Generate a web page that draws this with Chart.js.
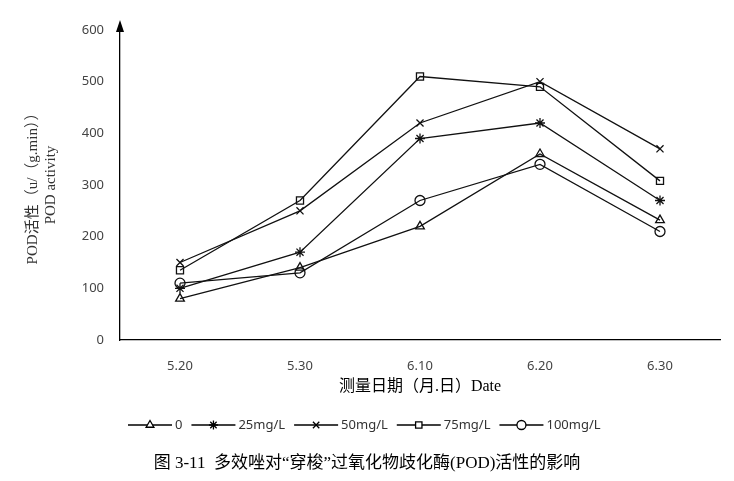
<!DOCTYPE html>
<html><head><meta charset="utf-8">
<script src="https://cdn.jsdelivr.net/npm/chart.js@4"></script>
<style>body{margin:0;background:#fff}#w{width:734px;height:481px}</style>
</head><body><div id="w"><canvas id="c"></canvas></div>
<script>
const dates = ['5.20', '5.30', '6.10', '6.20', '6.30'];
const names = ['0', '25mg/L', '50mg/L', '75mg/L', '100mg/L'];
const styles = ['triangle', 'star', 'crossRot', 'rect', 'circle'];
const s0 = [80, 140, 220, 360, 232];
const s25 = [100, 170, 390, 420, 270];
const s50 = [150, 250, 420, 500, 370];
const s75 = [135, 270, 510, 490, 308];
const s100 = [110, 130, 270, 340, 210];
const allSeries = [s0, s25, s50, s75, s100];

const font = '"Liberation Serif", "Noto Sans CJK SC", serif';

// legend, axis arrow and caption drawn by hand
const extras = {
    id: 'extras',
    afterDraw(ch) {
        const c = ch.ctx, a = ch.chartArea;
        c.save();
        c.fillStyle = '#000';
        c.beginPath();
        c.moveTo(a.left, a.top - 10); c.lineTo(a.left - 4, a.top + 2); c.lineTo(a.left + 4, a.top + 2);
        c.fill();
        let x = 128;
        const y = 425;
        c.font = '13px "Noto Sans", sans-serif';
        c.textBaseline = 'middle';
        ch.data.datasets.forEach((d, i) => {
            c.strokeStyle = '#000'; c.lineWidth = 1.3;
            c.beginPath(); c.moveTo(x, y); c.lineTo(x + 44, y); c.stroke();
            c.fillStyle = '#fff';
            Chart.helpers.drawPoint(c, {pointStyle: d.pointStyle, radius: 4.5, borderWidth: 1.3}, x + 22, y);
            c.fillStyle = '#333';
            c.fillText(d.label, x + 47, y);
            x += 52 + c.measureText(d.label).width + 4;
        });
        c.fillStyle = '#000';
        c.font = '17px ' + font;
        c.textAlign = 'center';
        c.fillText('图 3-11  多效唑对“穿梭”过氧化物歧化酶(POD)活性的影响', 367, 464);
        c.restore();
    }
};

new Chart(document.getElementById('c'), {
    type: 'line',
    data: {
        labels: dates,
        datasets: allSeries.map((v, i) => ({
            label: names[i],
            data: v,
            borderColor: '#111',
            borderWidth: 1.3,
            pointStyle: styles[i],
            pointRadius: 5,
            pointBorderColor: '#111',
            pointBackgroundColor: 'rgba(255,255,255,0)',
            pointBorderWidth: 1.3,
            tension: 0
        }))
    },
    options: {
        responsive: true,
        maintainAspectRatio: false,
        animation: false,
        layout: {padding: {top: 30, right: 14, bottom: 81, left: 24}},
        plugins: {legend: {display: false}, tooltip: {enabled: false}},
        scales: {
            x: {
                offset: true,
                grid: {display: false, drawTicks: false},
                border: {color: '#000', width: 1.3},
                ticks: {color: '#444', font: {size: 13, family: '"Noto Sans", sans-serif'}, padding: 18},
                title: {display: true, text: '测量日期（月.日）Date', color: '#000', font: {size: 16, family: font}, padding: {top: 6}},
                afterFit(s) { s.height = 60; }
            },
            y: {
                min: 0, max: 600,
                grid: {display: false},
                border: {color: '#000', width: 1.3},
                ticks: {stepSize: 100, color: '#444', font: {size: 13, family: '"Noto Sans", sans-serif'}, padding: 8},
                title: {display: true, text: ['POD活性（u/（g.min））', 'POD activity'], color: '#333', font: {size: 15, family: font}, padding: 0},
                afterFit(s) { s.width = 96; }
            }
        }
    },
    plugins: [extras]
});
</script></body></html>
